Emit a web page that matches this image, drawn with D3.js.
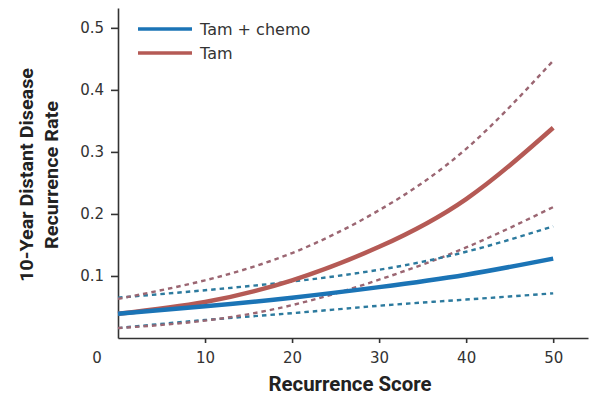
<!DOCTYPE html>
<html>
  <head>
    <meta charset="utf-8" />
    <title>Recurrence Score</title>
    <script src="https://d3js.org/d3.v7.min.js"></script>
    <style>
      body { margin:0; background:#fff; }
      .tick text { font-family: "DejaVu Sans", sans-serif; font-size: 15px; fill: #333; }
      .title { font-family: Roboto, "Liberation Sans", sans-serif; font-weight: bold; fill: #222; }
    </style>
  </head>
  <body>
    <svg id="chart"></svg>
    <script>
      // recurrence score values where the curves were read
      var scores = [0, 10, 20, 30, 40, 50];

      // Tam alone
      var tam      = [0.039, 0.058, 0.093, 0.147, 0.224, 0.339];
      var tamUpper = [0.063, 0.093, 0.137, 0.206, 0.305, 0.447];
      var tamLower = [0.016, 0.028, 0.053, 0.094, 0.146, 0.211];

      // Tam + chemo
      var chemo      = [0.039, 0.051, 0.065, 0.082, 0.102, 0.128];
      var chemoUpper = [0.065, 0.077, 0.091, 0.110, 0.139, 0.180];
      var chemoLower = [0.016, 0.029, 0.040, 0.052, 0.062, 0.072];

      var xTicks = [10, 20, 30, 40, 50];
      var yTicks = [0.1, 0.2, 0.3, 0.4, 0.5];

      var width = 601, height = 398;
      var blue = "#1b74b6", red = "#b55a55";
      var blueDash = "#2c7a9e", redDash = "#9b6672";

      var svg = d3.select("#chart")
        .attr("width", width)
        .attr("height", height);

      var x = d3.scaleLinear().domain([0, 54]).range([118, 588]);
      var y = d3.scaleLinear().domain([0, 0.532]).range([338, 8]);

      // axes
      svg.append("g")
        .attr("transform", "translate(0,338)")
        .call(d3.axisBottom(x).tickValues(xTicks).tickSize(5).tickPadding(9).tickSizeOuter(0));
      svg.append("g")
        .attr("transform", "translate(118,0)")
        .call(d3.axisLeft(y).tickValues(yTicks).tickFormat(d3.format(".1f")).tickSize(7).tickPadding(7).tickSizeOuter(0));
      svg.selectAll(".domain, .tick line").attr("stroke", "#333").attr("stroke-width", 1.6);

      svg.append("text")
        .attr("x", 97).attr("y", 363)
        .attr("text-anchor", "middle")
        .style("font-family", "DejaVu Sans, sans-serif")
        .style("font-size", "15px").attr("fill", "#333")
        .text("0");

      // curves
      var line = d3.line()
        .x(function(d, i) { return x(scores[i]); })
        .y(function(d) { return y(d); })
        .curve(d3.curveNatural);

      function draw(values, color, w, dash) {
        svg.append("path")
          .attr("d", line(values))
          .attr("fill", "none")
          .attr("stroke", color)
          .attr("stroke-width", w)
          .attr("stroke-dasharray", dash || null);
      }

      draw(chemoLower, blueDash, 2.4, "4.5,4");
      draw(tamLower, redDash, 2.4, "4.5,4");
      draw(chemoUpper, blueDash, 2.4, "4.5,4");
      draw(tamUpper, redDash, 2.4, "4.5,4");
      draw(tam, red, 4.5);
      draw(chemo, blue, 4.5);

      // legend
      var legend = [["Tam + chemo", blue], ["Tam", red]];
      legend.forEach(function(l, i) {
        var ly = 29 + i * 24;
        svg.append("line")
          .attr("x1", 138).attr("x2", 192).attr("y1", ly).attr("y2", ly)
          .attr("stroke", l[1]).attr("stroke-width", 3.5);
        svg.append("text")
          .attr("x", 200).attr("y", ly + 6)
          .style("font-family", "DejaVu Sans, sans-serif")
          .style("font-size", "16px").attr("fill", "#333")
          .text(l[0]);
      });

      // axis titles
      var title = svg.append("text")
        .attr("class", "title")
        .attr("transform", "translate(33,175) rotate(-90)")
        .attr("text-anchor", "middle")
        .style("font-size", "19px");
      title.append("tspan").attr("x", 0).attr("dy", 0)
        .attr("textLength", 214).attr("lengthAdjust", "spacingAndGlyphs")
        .text("10-Year Distant Disease");
      title.append("tspan").attr("x", 0).attr("dy", 25)
        .attr("textLength", 148).attr("lengthAdjust", "spacingAndGlyphs")
        .text("Recurrence Rate");

      svg.append("text")
        .attr("class", "title")
        .attr("x", 350).attr("y", 391)
        .attr("text-anchor", "middle")
        .attr("textLength", 163).attr("lengthAdjust", "spacingAndGlyphs")
        .style("font-size", "20px")
        .text("Recurrence Score");
    </script>
  </body>
</html>
